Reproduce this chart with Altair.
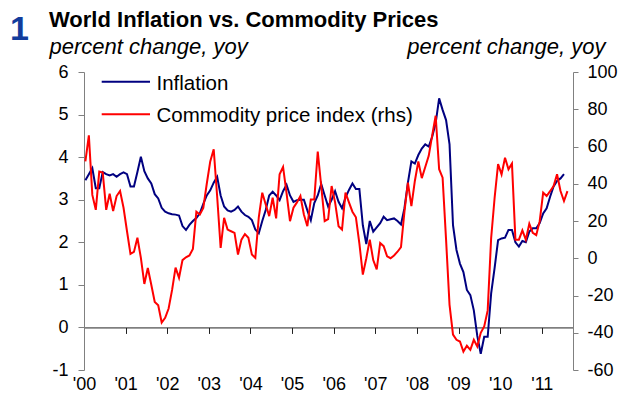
import altair as alt
import pandas as pd

# ---------------- data (monthly, Jan 2000 onward) ----------------
INFLATION = [
    3.46, 3.6, 3.74, 3.27, 3.27, 3.65, 3.6, 3.57, 3.6, 3.54, 3.6, 3.64,      # 2000
    3.6, 3.31, 3.31, 3.65, 4.01, 3.67, 3.5, 3.38, 3.13, 3.03, 2.81, 2.72,    # 2001
    2.68, 2.66, 2.65, 2.63, 2.38, 2.29, 2.41, 2.5, 2.57, 2.68, 2.9, 3.1,     # 2002
    3.22, 3.4, 3.54, 3.1, 2.84, 2.75, 2.72, 2.76, 2.84, 2.72, 2.64, 2.6,     # 2003
    2.52, 2.3, 2.21, 2.5, 2.76, 3.1, 3.19, 3.1, 2.99, 3.2, 3.35, 3.1,        # 2004
    2.95, 2.99, 3.0, 3.0, 2.75, 2.52, 2.92, 3.1, 3.37, 3.1, 2.84, 3.0,       # 2005
    3.2, 2.95, 2.8, 3.05, 3.23, 3.38, 3.25, 3.25, 2.4, 1.96, 2.5, 2.25,      # 2006
    2.35, 2.45, 2.6, 2.52, 2.54, 2.56, 2.5, 2.42, 2.8, 3.4, 3.9, 3.85,       # 2007
    4.05, 4.2, 4.3, 4.25, 4.48, 4.8, 5.38, 5.11, 4.87, 4.3, 2.4, 1.82,       # 2008
    1.5, 1.3, 0.88, 0.76, 0.4, -0.2, -0.62, -0.22, -0.22, 0.8, 1.4, 2.05,    # 2009
    2.09, 2.11, 2.29, 2.29, 2.0, 1.9, 2.03, 2.0, 2.25, 2.33, 2.33, 2.45,     # 2010
    2.68, 2.8, 3.07, 3.31, 3.44, 3.5, 3.6,                                   # 2011
]
COMMODITY = [
    52, 66, 34, 26, 46.5, 46, 26, 34.6, 25.3, 33.4, 36.1, 27.1,              # 2000
    14.5, 2.3, 3.4, 11, 0.2, -13.8, -5.2, -14.2, -23.5, -25.3, -34.5, -32,   # 2001
    -27, -17, -5, -10.5, -1, 0.5, 1.5, 5, 25, 23.5, 27, 40,                  # 2002
    52, 58.5, 33, 5.6, 21.7, 15.4, 14.5, 13.6, 2, 10, 13, 11,                # 2003
    2, 0.2, 22, 35.2, 28.9, 22.6, 32.5, 21.4, 45.1, 49, 35, 19.9,            # 2004
    27.1, 30, 33.4, 23.5, 17.2, 31.6, 31.6, 57.3, 38.8, 19.9, 21, 38.8,      # 2005
    30, 17.2, 15.4, 35.2, 30, 25, 22, 8, -8.8, 0, 10, -1,                    # 2006
    -6, 8.2, 6.5, 1, 0, 1.5, 3.5, 6, 25, 40.6, 28, 41.5,                     # 2007
    52, 43, 49, 55, 66, 76.5, 47.8, 43.3, 10, -25, -41, -43.8,               # 2008
    -44.7, -50.1, -47, -49.2, -43.8, -47.4, -40, -36.6, -28, 10.9, 32.5, 50.5,  # 2009
    45, 54, 47.8, 50.8, 10, 10, 15, 10, 18.5, 13.6, 12.4, 19.9,              # 2010
    35.2, 33.4, 36, 38.8, 45.1, 36.1, 30.7, 36,                              # 2011
]
YEARS = list(range(2000, 2012))
SERIES = ["Inflation", "Commodity price index (rhs)"]
COLORS = ["#000080", "#ff0000"]
LEFT_TICKS = list(range(-1, 7))
RIGHT_TICKS = list(range(-60, 101, 20))
TITLE = "World Inflation vs. Commodity Prices"
NUMBER = "1"
SUBTITLE = "percent change, yoy"

FONT = "Liberation Sans"
W, H = 489, 298


def month_pos(i):
    return 2000 + (i + 0.4) / 12


rows = []
for i, v in enumerate(INFLATION):
    rows.append({"t": month_pos(i), "value": v, "series": SERIES[0]})
for i, v in enumerate(COMMODITY):
    rows.append({"t": month_pos(i), "value": v, "series": SERIES[1]})
df = pd.DataFrame(rows)

color = alt.Color("series:N", scale=alt.Scale(domain=SERIES, range=COLORS), legend=None)

x_enc = alt.X(
    "t:Q",
    scale=alt.Scale(domain=[2000, 2011.75], nice=False, zero=False),
    axis=alt.Axis(
        values=YEARS,
        labelExpr="\"'\" + substring(toString(datum.value), 2, 4)",
        offset=-H / 7,
        tickSize=6,
        labelPadding=42,
        grid=False,
        domainColor="#222222",
        tickColor="#222222",
        labelFontSize=18,
        labelFont=FONT,
        labelColor="black",
        labelFlush=False,
        labelOverlap=False,
        title=None,
    ),
)


def y_axis(orient, values, title_x, title_align):
    return alt.Axis(
        orient=orient,
        values=values,
        labelExpr="toString(datum.value)",
        tickSize=6 if orient == "left" else 5,
        labelPadding=10 if orient == "left" else 9,
        grid=False,
        domainColor="#808080",
        tickColor="#808080",
        labelFontSize=18,
        labelFont=FONT,
        labelColor="black",
        labelFlush=False,
        labelOverlap=False,
        title=SUBTITLE,
        titleAngle=0,
        titleX=title_x,
        titleY=-18.7,
        titleAlign=title_align,
        titleBaseline="alphabetic",
        titleFont=FONT,
        titleFontSize=22,
        titleFontStyle="italic",
        titleFontWeight="normal",
        titleColor="black",
    )


base = alt.Chart(df)

infl = base.transform_filter(alt.datum.series == SERIES[0]).mark_line(strokeWidth=2).encode(
    x=x_enc,
    y=alt.Y("value:Q", scale=alt.Scale(domain=[-1, 6], nice=False, zero=False),
            axis=y_axis("left", LEFT_TICKS, -35, "left")),
    color=color,
)
comm = base.transform_filter(alt.datum.series == SERIES[1]).mark_line(strokeWidth=2).encode(
    x=x_enc,
    y=alt.Y("value:Q", scale=alt.Scale(domain=[-60, 100], nice=False, zero=False),
            axis=y_axis("right", RIGHT_TICKS, 32, "right")),
    color=color,
)

# legend (hand placed inside the plot)
legend_layers = []
for i, (s, c) in enumerate(zip(SERIES, COLORS)):
    ly = 9.7 + 32.6 * i
    d = pd.DataFrame({"label": [s]})
    legend_layers.append(
        alt.Chart(d).mark_rule(strokeWidth=2, color=c).encode(
            x=alt.value(17.7), x2=alt.value(66), y=alt.value(ly)
        )
    )
    legend_layers.append(
        alt.Chart(d).mark_text(align="left", baseline="alphabetic", fontSize=20.5, font=FONT, color="black").encode(
            x=alt.value(72.5), y=alt.value(ly + 8), text="label:N"
        )
    )

title_layers = [
    alt.Chart(pd.DataFrame({"label": [NUMBER]})).mark_text(
        align="left", baseline="alphabetic", fontSize=34, fontWeight="bold", font=FONT, color="#123c9c"
    ).encode(x=alt.value(-74), y=alt.value(-32), text="label:N"),
    alt.Chart(pd.DataFrame({"label": [TITLE]})).mark_text(
        align="left", baseline="alphabetic", fontSize=22, fontWeight="bold", font=FONT, color="black"
    ).encode(x=alt.value(-35), y=alt.value(-45.3), text="label:N"),
]

chart = (
    alt.layer(infl, comm, *legend_layers, *title_layers)
    .resolve_scale(y="independent")
    .properties(
        width=W,
        height=H,
        autosize=alt.AutoSizeParams(type="none"),
        padding={"left": 76, "top": 64, "right": 45, "bottom": 26},
    )
    .configure_view(strokeWidth=0)
)

chart.save("out.html", embed_options={"renderer": "svg", "actions": False})
